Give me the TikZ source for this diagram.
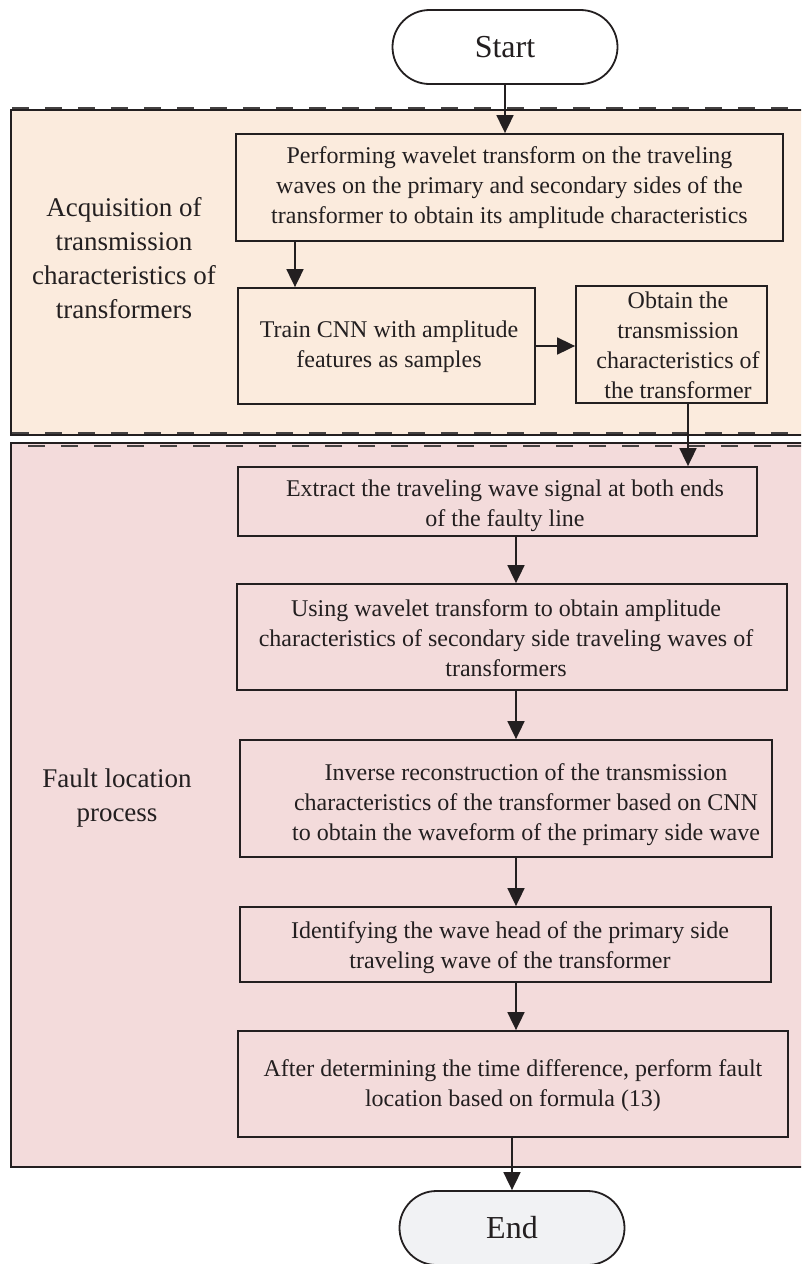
\documentclass[tikz,border=0pt]{standalone}
\usepackage{fontspec}
\setmainfont{Liberation Serif}
\usetikzlibrary{arrows.meta,shapes.misc}
\definecolor{ink}{HTML}{231F20}
\definecolor{regA}{HTML}{FBEBDD}
\definecolor{regB}{HTML}{F3DBDB}
\definecolor{endfill}{HTML}{F1F2F4}
\begin{document}
\begin{tikzpicture}[x=1pt,y=-1pt,
  box/.style={draw=ink, line width=1.8pt, rectangle, inner sep=0pt},
  txt/.style={text=ink, font=\fontsize{24}{30}\selectfont, align=center, inner sep=0pt},
  lbl/.style={text=ink, font=\fontsize{27}{34}\selectfont, align=center, inner sep=0pt},
  arr/.style={draw=ink, line width=1.8pt, -{Triangle[length=18pt,width=17pt]}},
  term/.style={draw=ink, line width=1.8pt, rounded rectangle, minimum width=225pt, minimum height=74pt, inner sep=0pt, font=\fontsize{32}{36}\selectfont, text=ink},
  region/.style={draw=ink, line width=2pt},
  dashline/.style={draw=ink!85, line width=2pt, dash pattern=on 17pt off 16pt}]
\useasboundingbox (0,0) rectangle (801,1264);
\clip (0,0) rectangle (801,1264);
% regions
\fill[regA] (11,110) rectangle (806,435);
\draw[region] (806,110) -- (11,110) -- (11,435) -- (806,435);
\draw[dashline] (12,107.5) -- (806,107.5);
\draw[dashline] (12,432.5) -- (806,432.5);
\fill[regB] (11,443) rectangle (806,1167);
\draw[region] (806,443) -- (11,443) -- (11,1167) -- (806,1167);
\draw[dashline] (28,445.5) -- (806,445.5);
% region labels
\node[lbl] (la) at (124,258) {Acquisition of\\transmission\\characteristics of\\transformers};
\node[lbl] (lb) at (117,798) {Fault location\\process};
% terminals
\node[term, fill=white] (start) at (505,47) {Start};
\node[term, fill=endfill] (end) at (512,1228) {End};
% boxes
\node[box, minimum width=547pt, minimum height=107pt] (b1) at (509.5,187.5) {};
\node[txt] (t1) at (509.5,188) {Performing wavelet transform on the traveling\\waves on the primary and secondary sides of the\\transformer to obtain its amplitude characteristics};
\node[box, minimum width=297pt, minimum height=116pt] (b2) at (386.5,346) {};
\node[txt] (t2) at (389,346.5) {Train CNN with amplitude\\features as samples};
\node[box, minimum width=191pt, minimum height=117pt] (b3) at (671.5,344.5) {};
\node[txt] (t3) at (678,345) {Obtain the\\transmission\\characteristics of\\the transformer};
\node[box, minimum width=519pt, minimum height=69pt] (b4) at (497.5,501.5) {};
\node[txt] (t4) at (505,505.5) {Extract the traveling wave signal at both ends\\of the faulty line};
\node[box, minimum width=550pt, minimum height=106pt] (b5) at (512,637) {};
\node[txt] (t5) at (506,638.5) {Using wavelet transform to obtain amplitude\\characteristics of secondary side traveling waves of\\transformers};
\node[box, minimum width=532pt, minimum height=117pt] (b6) at (506,798.5) {};
\node[txt] (t6) at (526,805) {Inverse reconstruction of the transmission\\characteristics of the transformer based on CNN\\to obtain the waveform of the primary side wave};
\node[box, minimum width=531pt, minimum height=75pt] (b7) at (505.5,944.5) {};
\node[txt] (t7) at (510,948) {Identifying the wave head of the primary side\\traveling wave of the transformer};
\node[box, minimum width=550pt, minimum height=106pt] (b8) at (513,1084) {};
\node[txt] (t8) at (513,1086) {After determining the time difference, perform fault\\location based on formula (13)};
% connectors
\draw[arr] (start.south) -- (start.south |- b1.north);
\coordinate (c1) at (295,241);
\draw[arr] (c1 |- b1.south) -- (c1 |- b2.north);
\draw[arr] (b2.east) -- (b2.east -| b3.west);
\coordinate (c3) at (688,403);
\draw[arr] (c3 |- b3.south) -- (c3 |- b4.north);
\coordinate (c4) at (516,0);
\draw[arr] (c4 |- b4.south) -- (c4 |- b5.north);
\draw[arr] (c4 |- b5.south) -- (c4 |- b6.north);
\draw[arr] (c4 |- b6.south) -- (c4 |- b7.north);
\draw[arr] (c4 |- b7.south) -- (c4 |- b8.north);
\coordinate (c8) at (512,0);
\draw[arr] (c8 |- b8.south) -- (c8 |- end.north);
\end{tikzpicture}
\end{document}
